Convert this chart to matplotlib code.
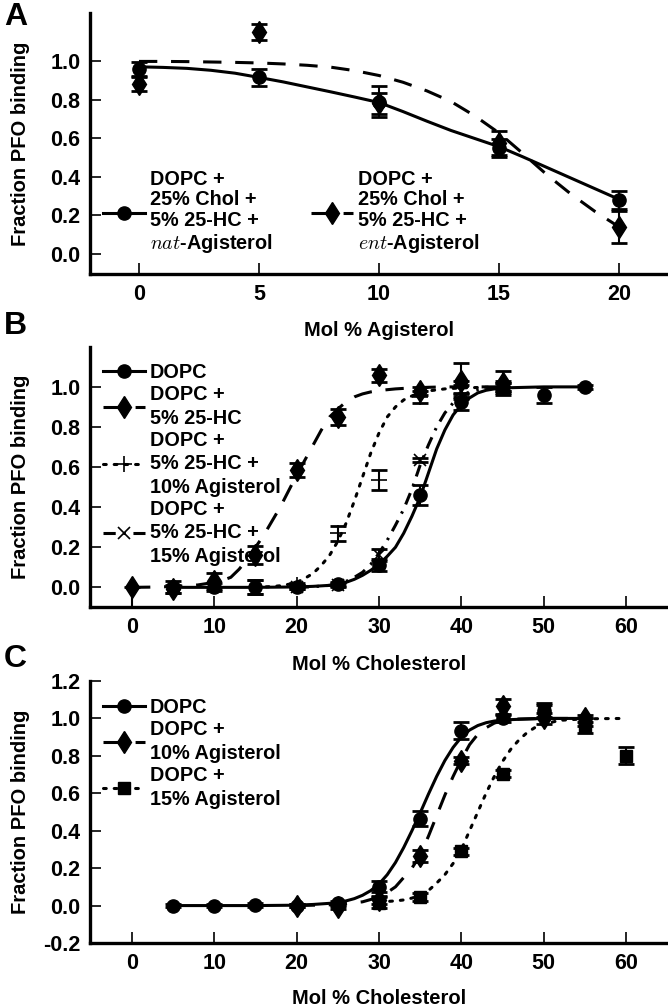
import matplotlib
matplotlib.use('Agg')
import matplotlib.pyplot as plt
from matplotlib.lines import Line2D

plt.rcParams['font.family'] = ['Liberation Sans', 'DejaVu Sans']
plt.rcParams['font.weight'] = 'bold'
plt.rcParams['axes.labelweight'] = 'bold'
plt.rcParams['mathtext.fontset'] = 'cm'

# ---------------- Panel A data ----------------
xA = [0, 5, 10, 15, 20]
natA_y = [0.96, 0.915, 0.79, 0.548, 0.28]
natA_err = [0.035, 0.045, 0.078, 0.048, 0.047]
entA_y = [0.88, 1.15, 0.78, 0.575, 0.14]
entA_err = [0.035, 0.04, 0.052, 0.06, 0.085]
fitA_x = [0, 1, 2, 3, 4, 5, 6, 7, 8, 9, 10, 11, 12, 13, 14, 15, 16, 17, 18, 19, 20]
fitA_nat = [0.970, 0.967, 0.962, 0.952, 0.937, 0.915, 0.892, 0.866, 0.840, 0.813, 0.785,
            0.738, 0.688, 0.640, 0.598, 0.556, 0.503, 0.448, 0.393, 0.338, 0.283]
fitA_ent = [0.998, 0.998, 0.997, 0.995, 0.993, 0.990, 0.985, 0.978, 0.968, 0.950, 0.925,
            0.890, 0.845, 0.790, 0.715, 0.627, 0.520, 0.410, 0.310, 0.220, 0.140]
labA = ["DOPC +\n25% Chol +\n5% 25-HC +\n$nat$-Agisterol",
        "DOPC +\n25% Chol +\n5% 25-HC +\n$ent$-Agisterol"]

# ---------------- Panel B data ----------------
B_dopc_x = [5, 10, 15, 20, 25, 30, 35, 40, 45, 50, 55]
B_dopc_y = [0.0, 0.0, 0.0, 0.0, 0.015, 0.11, 0.46, 0.925, 1.0, 0.96, 1.0]
B_dopc_e = [0.03, 0.02, 0.035, 0.01, 0.01, 0.03, 0.05, 0.04, 0.03, 0.04, 0.01]
B_hc_x = [0, 5, 10, 15, 20, 25, 30, 35, 40, 45]
B_hc_y = [0.0, -0.01, 0.03, 0.16, 0.585, 0.85, 1.058, 0.98, 1.03, 1.02]
B_hc_elo = [0.1, 0.02, 0.04, 0.045, 0.035, 0.04, 0.033, 0.02, 0.09, 0.06]
B_hc_ehi = [0.0, 0.02, 0.04, 0.045, 0.035, 0.04, 0.033, 0.02, 0.09, 0.06]
B_a10_x = [15, 20, 25, 30, 35, 40, 45]
B_a10_y = [0.0, 0.01, 0.27, 0.535, 0.95, 1.0, 1.0]
B_a10_e = [0.035, 0.01, 0.037, 0.05, 0.03, 0.03, 0.02]
B_a15_x = [20, 25, 30, 35, 40, 45]
B_a15_y = [0.0, 0.01, 0.16, 0.635, 0.98, 1.0]
B_a15_e = [0.01, 0.01, 0.03, 0.012, 0.03, 0.02]

fitB_dopc_x = [5, 10, 15, 20, 22, 24, 25, 26, 27, 28, 29, 30, 31, 32, 33, 34, 35, 36, 37, 38,
               39, 40, 41, 42, 43, 44, 45, 50, 55]
fitB_dopc_y = [0, 0, 0, 0.002, 0.005, 0.01, 0.015, 0.025, 0.04, 0.06, 0.085, 0.115, 0.155,
               0.2, 0.27, 0.355, 0.45, 0.57, 0.69, 0.785, 0.86, 0.91, 0.945, 0.97, 0.983,
               0.99, 0.995, 1.0, 1.0]
fitB_hc_x = [0, 2, 4, 6, 8, 10, 11, 12, 13, 14, 15, 16, 17, 18, 19, 20, 21, 22, 23, 24, 25,
             26, 27, 28, 29, 30, 32, 34, 36, 38, 40, 45]
fitB_hc_y = [0, 0.001, 0.003, 0.006, 0.012, 0.025, 0.035, 0.05, 0.09, 0.14, 0.2, 0.26, 0.33,
             0.40, 0.48, 0.56, 0.635, 0.71, 0.785, 0.85, 0.89, 0.925, 0.95, 0.965, 0.975,
             0.982, 0.99, 0.995, 0.998, 1.0, 1.0, 1.0]
fitB_a10_x = [15, 16, 17, 18, 19, 20, 21, 22, 23, 24, 25, 26, 27, 28, 29, 30, 31, 32, 33, 34,
              35, 36, 38, 40, 45]
fitB_a10_y = [0.0, 0.002, 0.004, 0.008, 0.015, 0.025, 0.045, 0.07, 0.11, 0.16, 0.23, 0.32,
              0.43, 0.55, 0.67, 0.77, 0.85, 0.9, 0.935, 0.955, 0.97, 0.98, 0.99, 0.995, 1.0]
fitB_a15_x = [20, 22, 24, 25, 26, 27, 28, 29, 30, 31, 32, 33, 34, 35, 36, 37, 38, 39, 40, 41,
              42, 43, 45]
fitB_a15_y = [0.0, 0.003, 0.01, 0.02, 0.03, 0.05, 0.075, 0.115, 0.17, 0.235, 0.31, 0.39,
              0.49, 0.61, 0.71, 0.8, 0.87, 0.92, 0.955, 0.975, 0.985, 0.992, 0.998]
labB = ["DOPC", "DOPC +\n5% 25-HC", "DOPC +\n5% 25-HC +\n10% Agisterol",
        "DOPC +\n5% 25-HC +\n15% Agisterol"]

# ---------------- Panel C data ----------------
C_dopc_x = [5, 10, 15, 20, 25, 30, 35, 40, 45, 50, 55]
C_dopc_y = [0.0, 0.0, 0.005, 0.0, 0.015, 0.1, 0.465, 0.935, 1.0, 1.04, 0.98]
C_dopc_e = [0.01, 0.01, 0.01, 0.01, 0.01, 0.03, 0.04, 0.045, 0.02, 0.03, 0.02]
C_a10_x = [20, 25, 30, 35, 40, 45, 50, 55]
C_a10_y = [0.0, -0.01, 0.03, 0.265, 0.775, 1.065, 1.0, 1.0]
C_a10_e = [0.01, 0.01, 0.02, 0.033, 0.02, 0.04, 0.03, 0.02]
C_a15_x = [30, 35, 40, 45, 50, 55, 60]
C_a15_y = [0.015, 0.045, 0.29, 0.705, 1.04, 0.96, 0.8]
C_a15_e = [0.03, 0.02, 0.02, 0.02, 0.04, 0.04, 0.045]

fitC_dopc_x = [5, 10, 15, 20, 22, 24, 25, 26, 27, 28, 29, 30, 31, 32, 33, 34, 35, 36, 37, 38,
               39, 40, 41, 42, 43, 44, 45, 50, 55]
fitC_dopc_y = [0, 0, 0, 0.002, 0.006, 0.012, 0.017, 0.025, 0.037, 0.055, 0.08, 0.115, 0.165,
               0.23, 0.31, 0.4, 0.495, 0.595, 0.69, 0.775, 0.845, 0.9, 0.938, 0.962, 0.977,
               0.986, 0.992, 1.0, 1.0]
fitC_a10_x = [20, 25, 28, 30, 31, 32, 33, 34, 35, 36, 37, 38, 39, 40, 41, 42, 43, 44, 45, 47,
              50, 55]
fitC_a10_y = [0, 0.005, 0.02, 0.045, 0.07, 0.1, 0.15, 0.2, 0.27, 0.37, 0.48, 0.59, 0.69, 0.78,
              0.86, 0.915, 0.95, 0.975, 0.988, 0.997, 1.0, 1.0]
fitC_a15_x = [30, 31, 32, 33, 34, 35, 36, 37, 38, 39, 40, 41, 42, 43, 44, 45, 46, 47, 48, 49,
              50, 52, 55, 60]
fitC_a15_y = [0.02, 0.022, 0.025, 0.03, 0.04, 0.055, 0.08, 0.12, 0.165, 0.225, 0.3, 0.4, 0.5,
              0.6, 0.69, 0.77, 0.835, 0.885, 0.925, 0.953, 0.97, 0.99, 0.998, 1.0]
labC = ["DOPC", "DOPC +\n10% Agisterol", "DOPC +\n15% Agisterol"]

# ---------------- styles ----------------
LW = 2.2
SOLID = '-'
DASH = (0, (6, 4.5))
DOT = (0, (0.9, 2.6))
DASHDOT = (0, (4, 2.5, 0.8, 2.5))
MK = {
    'o': dict(marker='o', ms=9.5),
    'd': dict(marker='d', ms=11.5),
    's': dict(marker='s', ms=8.5),
    '+': dict(marker='+', ms=11, mew=1.2),
    'x': dict(marker='x', ms=9, mew=1.2),
}

W, H = 668, 1006
fig = plt.figure(figsize=(W / 100, H / 100), dpi=100)


def add_ax(l, t, r, b):
    return fig.add_axes([l / W, 1 - b / H, (r - l) / W, (b - t) / H])


def style(ax, xticks, yticks, xlim, ylim):
    for s in ['top', 'right']:
        ax.spines[s].set_visible(False)
    for s in ['left', 'bottom']:
        ax.spines[s].set_linewidth(2.4)
    ax.set_xticks(xticks)
    ax.set_yticks(yticks)
    ax.set_xlim(*xlim)
    ax.set_ylim(*ylim)
    ax.yaxis.set_major_formatter(matplotlib.ticker.FormatStrFormatter('%.1f'))
    ax.tick_params(direction='in', length=8, width=1.2, labelsize=15.5, pad=7)
    for t in ax.get_xticklabels() + ax.get_yticklabels():
        t.set_fontweight('bold')


def curve(ax, x, y, ls):
    kw = dict(color='k', lw=LW, ls=ls, zorder=2)
    if ls == DOT:
        kw['dash_capstyle'] = 'round'
    ax.plot(x, y, **kw)


def points(ax, x, y, err, mk):
    ax.errorbar(x, y, yerr=err, fmt='none', ecolor='k', elinewidth=1.5,
                capsize=5.5, capthick=2, zorder=3)
    ax.plot(x, y, ls='none', color='k', zorder=4, **MK[mk])


def handle(ls, mk):
    kw = dict(color='k', lw=LW, ls=ls, **MK[mk])
    if ls == DOT:
        kw['dash_capstyle'] = 'round'
    return Line2D([], [], **kw)


LEG = dict(frameon=False, fontsize=14.3, handlelength=2.1, handletextpad=0.25,
           borderpad=0, borderaxespad=0, loc='upper left')


def fix_legend(leg, ls):
    for t in leg.get_texts():
        t.set_linespacing(ls)
        t.set_fontweight('bold')


LABEL_FS = 14.5

# ---------------- Panel A ----------------
axA = add_ax(90, 13, 668, 274)
style(axA, [0, 5, 10, 15, 20], [0, 0.2, 0.4, 0.6, 0.8, 1.0], (-2.04, 22.04), (-0.104, 1.249))
curve(axA, fitA_x, fitA_ent, DASH)
curve(axA, fitA_x, fitA_nat, SOLID)
points(axA, xA, entA_y, entA_err, 'd')
points(axA, xA, natA_y, natA_err, 'o')
legA = axA.legend(handles=[handle(SOLID, 'o'), handle(DASH, 'd')], labels=labA, ncols=2,
                  bbox_to_anchor=(0.0225, 0.40), columnspacing=1.95, labelspacing=0, **LEG)
fix_legend(legA, 1.12)
axA.set_xlabel('Mol % Agisterol', fontsize=LABEL_FS)
axA.set_ylabel('Fraction PFO binding', fontsize=LABEL_FS)
axA.xaxis.set_label_coords(0.5, -0.18)
axA.yaxis.set_label_coords(-0.104, 0.5)

# ---------------- Panel B ----------------
axB = add_ax(90, 347, 668, 607)
style(axB, [0, 10, 20, 30, 40, 50, 60], [0, 0.2, 0.4, 0.6, 0.8, 1.0], (-5.1, 65.1), (-0.098, 1.199))
curve(axB, fitB_hc_x, fitB_hc_y, DASH)
curve(axB, fitB_a10_x, fitB_a10_y, DOT)
curve(axB, fitB_a15_x, fitB_a15_y, DASHDOT)
curve(axB, fitB_dopc_x, fitB_dopc_y, SOLID)
points(axB, B_hc_x, B_hc_y, [B_hc_elo, B_hc_ehi], 'd')
points(axB, B_a10_x, B_a10_y, B_a10_e, '+')
points(axB, B_a15_x, B_a15_y, B_a15_e, 'x')
points(axB, B_dopc_x, B_dopc_y, B_dopc_e, 'o')
legB = axB.legend(handles=[handle(SOLID, 'o'), handle(DASH, 'd'), handle(DOT, '+'), handle(DASHDOT, 'x')],
                  labels=labB, bbox_to_anchor=(0.0225, 0.937), labelspacing=0.14, **LEG)
fix_legend(legB, 1.31)
axB.set_xlabel('Mol % Cholesterol', fontsize=LABEL_FS)
axB.set_ylabel('Fraction PFO binding', fontsize=LABEL_FS)
axB.xaxis.set_label_coords(0.5, -0.185)
axB.yaxis.set_label_coords(-0.104, 0.5)

# ---------------- Panel C ----------------
axC = add_ax(90, 681, 668, 943)
style(axC, [0, 10, 20, 30, 40, 50, 60], [-0.2, 0, 0.2, 0.4, 0.6, 0.8, 1.0, 1.2], (-5.1, 65.1), (-0.2, 1.2))
curve(axC, fitC_a15_x, fitC_a15_y, DOT)
curve(axC, fitC_a10_x, fitC_a10_y, DASH)
curve(axC, fitC_dopc_x, fitC_dopc_y, SOLID)
points(axC, C_a15_x, C_a15_y, C_a15_e, 's')
points(axC, C_a10_x, C_a10_y, C_a10_e, 'd')
points(axC, C_dopc_x, C_dopc_y, C_dopc_e, 'o')
legC = axC.legend(handles=[handle(SOLID, 'o'), handle(DASH, 'd'), handle(DOT, 's')],
                  labels=labC, bbox_to_anchor=(0.0225, 0.937), labelspacing=0.17, **LEG)
fix_legend(legC, 1.31)
axC.set_xlabel('Mol % Cholesterol', fontsize=LABEL_FS)
axC.set_ylabel('Fraction PFO binding', fontsize=LABEL_FS)
axC.xaxis.set_label_coords(0.5, -0.175)
axC.yaxis.set_label_coords(-0.104, 0.5)

# panel letters
for letter, ybase in [('A', 25), ('B', 334), ('C', 667)]:
    fig.text(4 / W, 1 - ybase / H, letter, fontsize=23, fontweight='bold', va='baseline', ha='left')

fig.savefig('out.png', dpi=100)
